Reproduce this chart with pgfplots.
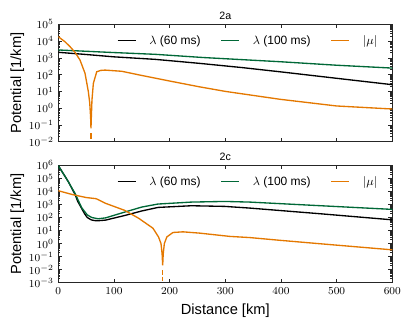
\documentclass[border=0pt]{standalone}
\usepackage{fontspec}
\setmainfont{Liberation Sans}
\usepackage{pgfplots}
\pgfplotsset{compat=1.18}

\definecolor{lamgreen}{RGB}{0,104,55}
\definecolor{muorange}{RGB}{228,120,0}

\pgfplotsset{
  potstyle/.style={
    scale only axis, width=250.5pt, height=88.05pt,
    xmin=0, xmax=600,
    xtick={0,100,...,600},
    tick align=inside, tick pos=both,
    major tick length=3pt, minor tick length=1.5pt,
    axis line style={black!85, line width=0.6pt},
    every tick/.style={black!85, line width=0.5pt},
    tick label style={font=\fontsize{8.5}{10}\selectfont},
    label style={font=\fontsize{11}{13}\selectfont},
    ylabel={Potential [1/km]},
    ylabel style={at={(axis description cs:-0.123,0.5)}, anchor=center},
    every axis title/.style={at={(axis description cs:0.5,1)}, anchor=south,
      yshift=3.5pt, inner sep=0pt, font=\fontsize{8}{9}\selectfont},
    legend columns=3,
    legend style={draw=none, fill=none, at={(axis description cs:0.163,0.86)},
      anchor=west, font=\fontsize{9}{10}\selectfont, nodes={inner sep=0pt},
      /tikz/every odd column/.append style={column sep=9.75pt},
      /tikz/every even column/.append style={column sep=15pt}},
    legend image code/.code={\draw[##1] (0pt,0pt) -- (13.5pt,0pt);},
    every axis plot/.append style={line width=1pt},
  }
}

\begin{document}
\begin{tikzpicture}
\path[use as bounding box] (0,0) rectangle (311.25pt,247.5pt);

% ---- panel 2a ----
\begin{semilogyaxis}[potstyle, at={(43.725pt,141.225pt)}, anchor=south west,
    ymin=1e-2, ymax=1e5, ytick={1e-2,1e-1,1,10,100,1e3,1e4,1e5},
    xticklabels={}, title={2a}]
\addplot[black] coordinates {
  (0,2140) (50,1585) (100,1148) (174,813) (254,468) (330,263)
  (398,148) (500,60.3) (600,25.1)};
\addplot[lamgreen] coordinates {
  (0,2951) (90,2138) (174,1622) (260,1047) (398,589) (500,363) (600,245)};
\addplot[muorange] coordinates {
  (0,18200) (12,9120) (21,4677) (30,2138) (39,741) (48,120) (54,9.55)
  (56.5,2.0) (58,0.316) (58.7,0.063) (59.4,0.316) (60.5,3.16) (63,30.2)
  (69,148) (76,178) (84,186) (114,158) (150,89) (195,44.7) (254,18.6)
  (300,10) (398,3.39) (500,1.35) (600,0.89)};
\addplot[muorange, forget plot] coordinates {(58.7,0.0316) (58.7,0.0141)};
\legend{$\lambda$ (60 ms), $\lambda$ (100 ms), $|\mu|$}
\end{semilogyaxis}

% ---- panel 2c ----
\begin{semilogyaxis}[potstyle, at={(43.725pt,35.475pt)}, anchor=south west,
    ymin=1e-3, ymax=1e6, ytick={1e-3,1e-2,1e-1,1,10,100,1e3,1e4,1e5,1e6},
    xlabel={Distance [km]}, title={2c}]
\addplot[black] coordinates {
  (0,930000) (18,56234) (30,5888) (35,1698) (47,200) (52,100) (59,66.1)
  (65,58) (71.5,56.2) (85,63.1) (119,141) (150,316) (179,589) (239,794)
  (299,708) (344,525) (472,191) (600,66.1)};
\addplot[lamgreen] coordinates {
  (0,950000) (15,89125) (30,7079) (42,562) (52,158) (60,100) (71.5,79.4)
  (85,93.3) (119,257) (150,631) (179,1072) (239,1514) (299,1698)
  (344,1514) (472,794) (600,417)};
\addplot[muorange] coordinates {
  (0,11220) (26,5623) (50,3388) (68,2754) (84,1259) (119,355) (144,89.1)
  (170,15.1) (180,3.24) (184.5,1.0) (186.5,0.158) (187.5,0.0219)
  (188.5,0.158) (190.5,1.0) (195,3.24) (206,7.08) (224,7.94) (254,6.31)
  (308,3.55) (344,2.88) (398,1.78) (472,0.955) (600,0.331)};
\addplot[muorange, forget plot, dash pattern=on 3.5pt off 1.3pt] coordinates {
  (187.5,0.0089) (187.5,0.001)};
\legend{$\lambda$ (60 ms), $\lambda$ (100 ms), $|\mu|$}
\end{semilogyaxis}
\end{tikzpicture}
\end{document}
